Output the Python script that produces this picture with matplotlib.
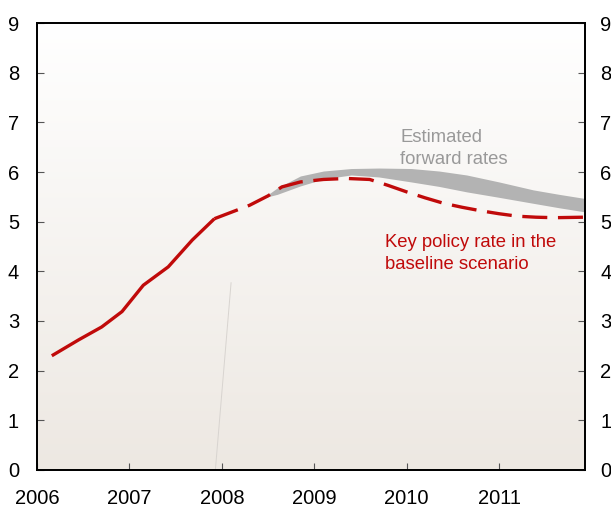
import matplotlib.pyplot as plt
import numpy as np

# Key policy rate, actual (solid)
actual_x = [2006.16, 2006.45, 2006.70, 2006.92, 2007.15, 2007.42, 2007.68, 2007.92]
actual_y = [2.30, 2.62, 2.88, 3.19, 3.72, 4.09, 4.63, 5.06]

# Key policy rate, baseline scenario (dashed)
base_x = [2007.92, 2008.30, 2008.50, 2008.65, 2008.85, 2009.10, 2009.35, 2009.60,
          2009.80, 2010.00, 2010.20, 2010.40, 2010.60, 2010.80, 2011.00, 2011.20,
          2011.40, 2011.60, 2011.92]
base_y = [5.06, 5.33, 5.52, 5.70, 5.80, 5.85, 5.87, 5.85, 5.73, 5.60, 5.48, 5.37,
          5.29, 5.22, 5.16, 5.11, 5.09, 5.08, 5.09]

# Estimated forward rates (band)
fwd_x = [2008.45, 2008.60, 2008.85, 2009.10, 2009.40, 2009.70, 2010.05, 2010.35,
         2010.65, 2011.00, 2011.37, 2011.65, 2011.92]
fwd_lo = [5.48, 5.55, 5.72, 5.86, 5.94, 5.90, 5.80, 5.71, 5.60, 5.49, 5.37, 5.28, 5.20]
fwd_hi = [5.48, 5.68, 5.92, 6.02, 6.07, 6.08, 6.07, 6.02, 5.94, 5.80, 5.64, 5.55, 5.47]

# faint stray line in the original
stray_x = [2007.93, 2008.10]
stray_y = [0, 3.77]

years = [2006, 2007, 2008, 2009, 2010, 2011]
red = "#c00a0a"

plt.rcParams['font.family'] = ['Liberation Sans', 'DejaVu Sans']

fig = plt.figure(figsize=(6.11, 5.07), dpi=100)
ax = fig.add_axes([0.0606, 0.073, 0.8968, 0.8816])

# background gradient
grad = np.linspace(0, 1, 256).reshape(-1, 1)
top = np.array([1.0, 1.0, 1.0])
bottom = np.array([237, 232, 226]) / 255
img = top + (bottom - top) * grad[:, :, None]
ax.imshow(img, extent=[0, 1, 0, 1], transform=ax.transAxes, aspect="auto", zorder=0)

ax.plot(stray_x, stray_y, color="#d8d4d0", lw=0.7, zorder=1)
ax.fill_between(fwd_x, fwd_lo, fwd_hi, color="#b3b3b3", lw=0, zorder=2)
ax.plot(actual_x, actual_y, color=red, lw=2.4, solid_capstyle="butt", zorder=3)
ax.plot(base_x, base_y, color=red, lw=2.4, dashes=(7.5, 3.2), zorder=3)

ax.set_xlim(2006, 2011.93)
ax.set_ylim(0, 9)
ax.set_xticks(years)
ax.set_xticklabels([str(y) for y in years])
ax.set_yticks(range(10))
ax.tick_params(axis="x", direction="in", length=5, pad=14, labelsize=14.5, color="#555555")
ax.tick_params(axis="y", direction="in", length=5, pad=13, labelsize=14.5, color="#555555")

ax2 = ax.twinx()
ax2.set_ylim(0, 9)
ax2.set_yticks(range(10))
ax2.tick_params(axis="y", direction="in", length=5, pad=11, labelsize=14.5, color="#555555")

for a in (ax, ax2):
    for s in a.spines.values():
        s.set_linewidth(1.3)
        s.set_color("black")

ax.text(2009.93, 6.86, "Estimated\nforward rates", color="#999999", fontsize=13.3,
        linespacing=1.38, va="top", ha="left")
ax.text(2009.77, 4.75, "Key policy rate in the\nbaseline scenario", color=red,
        fontsize=13.3, linespacing=1.38, va="top", ha="left")

fig.savefig("out.png", dpi=100)
